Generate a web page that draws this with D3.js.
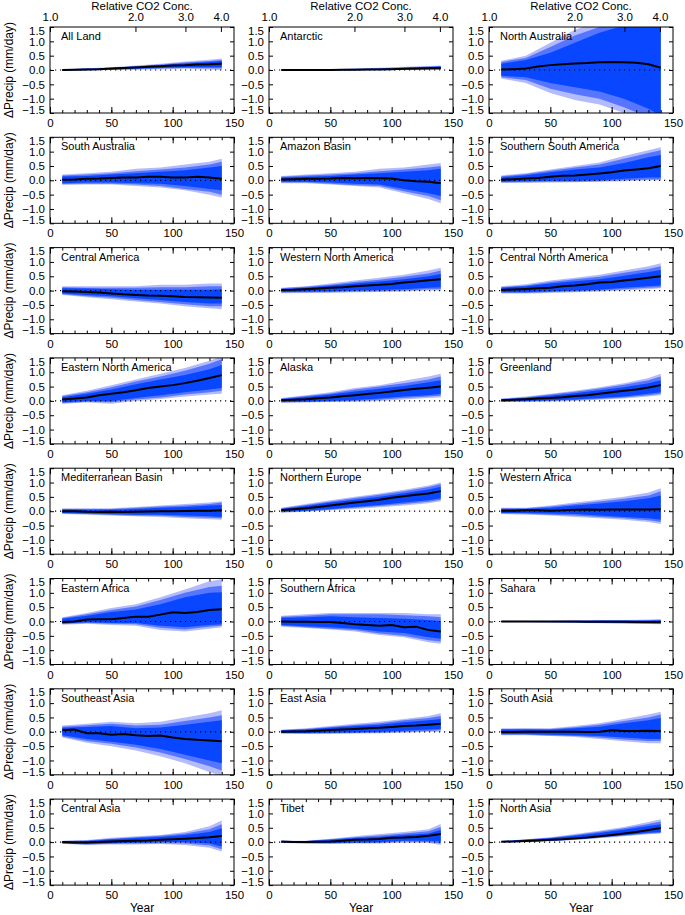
<!DOCTYPE html>
<html><head><meta charset="utf-8">
<script src="https://cdn.jsdelivr.net/npm/d3@7"></script>
<style>body{margin:0;background:#fff}svg{display:block}text{font-family:"Liberation Sans",Arial,Helvetica,sans-serif}</style>
</head><body><div id="chart"></div>
<script>
// ---------- data ----------
const regions = ["All Land","Antarctic","North Australia","South Australia","Amazon Basin","Southern South America",
 "Central America","Western North America","Central North America","Eastern North America","Alaska","Greenland",
 "Mediterranean Basin","Northern Europe","Western Africa","Eastern Africa","Southern Africa","Sahara",
 "Southeast Asia","East Asia","South Asia","Central Asia","Tibet","North Asia"];
const years = [10,20,30,40,50,60,70,80,90,100,110,120,130,140];
const bandYears = [10,30,50,70,90,110,130,140];
const xTicks = [0,50,100,150];
const xMinorTicks = [0,10,20,30,40,50,60,70,80,90,100,110,120,130,140,150];
const yTicks = [-1.5,-1.0,-0.5,0.0,0.5,1.0,1.5];
const co2Ticks = [1.0,2.0,3.0,4.0];

const median = [
 [0,0.01,0.02,0.03,0.05,0.07,0.09,0.11,0.13,0.16,0.17,0.19,0.2,0.22],
 [0,0,0,0,0,0.005,0.01,0.015,0.02,0.03,0.04,0.05,0.06,0.07],
 [0.02,0.03,0.05,0.12,0.17,0.2,0.23,0.24,0.27,0.28,0.27,0.25,0.2,0.08],
 [0.02,0.03,0.05,0.06,0.08,0.1,0.1,0.12,0.12,0.1,0.1,0.12,0.1,0.05],
 [0.03,0.04,0.05,0.05,0.06,0.08,0.07,0.08,0.07,0.06,0.0,-0.03,-0.05,-0.1],
 [0.02,0.04,0.06,0.08,0.12,0.16,0.17,0.2,0.24,0.28,0.34,0.38,0.42,0.5],
 [-0.02,-0.03,-0.05,-0.07,-0.1,-0.13,-0.15,-0.17,-0.18,-0.2,-0.22,-0.23,-0.24,-0.25],
 [0.02,0.03,0.05,0.07,0.1,0.12,0.15,0.18,0.2,0.23,0.28,0.32,0.36,0.4],
 [0.02,0.04,0.06,0.08,0.1,0.15,0.18,0.22,0.28,0.3,0.35,0.4,0.45,0.5],
 [0.05,0.08,0.12,0.2,0.25,0.3,0.37,0.45,0.5,0.55,0.62,0.7,0.8,0.9],
 [0.02,0.04,0.06,0.09,0.12,0.16,0.2,0.24,0.28,0.33,0.38,0.42,0.46,0.5],
 [0.02,0.04,0.06,0.08,0.1,0.13,0.17,0.2,0.25,0.3,0.35,0.4,0.47,0.55],
 [0.0,0.0,-0.02,-0.03,-0.02,-0.03,-0.02,-0.01,0.0,0.0,0.01,0.02,0.02,0.03],
 [0.03,0.07,0.1,0.15,0.2,0.25,0.3,0.35,0.4,0.47,0.52,0.57,0.62,0.7],
 [0.02,0.02,0.03,0.03,0.02,0.03,0.05,0.06,0.05,0.06,0.06,0.06,0.06,0.07],
 [-0.02,0.0,0.07,0.08,0.08,0.12,0.17,0.17,0.24,0.32,0.3,0.33,0.4,0.43],
 [0.0,-0.01,-0.01,-0.02,-0.02,-0.05,-0.1,-0.12,-0.15,-0.12,-0.2,-0.18,-0.3,-0.35],
 [0.0,0.0,0.0,0.0,0.0,0.0,0.0,-0.01,-0.01,-0.01,-0.01,-0.02,-0.02,-0.02],
 [0.05,0.08,-0.05,-0.05,-0.1,-0.08,-0.12,-0.15,-0.13,-0.2,-0.25,-0.28,-0.3,-0.33],
 [0.0,0.01,0.02,0.04,0.06,0.08,0.1,0.12,0.14,0.17,0.2,0.22,0.25,0.28],
 [-0.01,-0.01,0.0,0.0,0.0,0.0,0.0,-0.01,0.0,0.05,0.03,0.03,0.04,0.03],
 [0.0,-0.01,-0.01,0.0,0.02,0.04,0.05,0.06,0.08,0.1,0.12,0.14,0.17,0.21],
 [0.02,0.0,0.0,0.01,0.02,0.05,0.08,0.09,0.11,0.15,0.16,0.18,0.22,0.28],
 [0.01,0.02,0.04,0.06,0.08,0.1,0.13,0.16,0.2,0.25,0.3,0.35,0.42,0.49]
];
const outerHi = [
 [0.03,0.06,0.1,0.16,0.22,0.3,0.36,0.4],
 [0.01,0.02,0.03,0.05,0.08,0.11,0.14,0.16],
 [0.32,0.5,0.95,1.4,1.7,1.8,1.8,1.8],
 [0.2,0.25,0.3,0.4,0.45,0.55,0.65,0.75],
 [0.15,0.2,0.25,0.3,0.4,0.45,0.55,0.6],
 [0.17,0.25,0.38,0.5,0.62,0.85,1.05,1.15],
 [0.15,0.15,0.15,0.15,0.2,0.2,0.25,0.25],
 [0.1,0.15,0.25,0.35,0.45,0.55,0.7,0.8],
 [0.15,0.22,0.35,0.45,0.55,0.7,0.85,0.95],
 [0.2,0.35,0.55,0.75,0.95,1.15,1.4,1.55],
 [0.1,0.2,0.3,0.45,0.55,0.7,0.85,0.95],
 [0.08,0.15,0.25,0.35,0.48,0.62,0.8,0.95],
 [0.1,0.1,0.1,0.15,0.2,0.25,0.3,0.35],
 [0.12,0.25,0.38,0.5,0.62,0.75,0.9,1.0],
 [0.12,0.12,0.2,0.3,0.4,0.5,0.65,0.8],
 [0.15,0.3,0.47,0.6,0.85,1.12,1.4,1.47],
 [0.2,0.25,0.3,0.3,0.3,0.3,0.25,0.25],
 [0.03,0.03,0.03,0.04,0.05,0.05,0.07,0.08],
 [0.22,0.28,0.35,0.3,0.35,0.5,0.65,0.75],
 [0.07,0.12,0.2,0.28,0.35,0.45,0.55,0.65],
 [0.12,0.13,0.12,0.2,0.3,0.45,0.6,0.7],
 [0.05,0.07,0.15,0.2,0.25,0.35,0.55,0.75],
 [0.05,0.05,0.12,0.2,0.28,0.35,0.45,0.63],
 [0.04,0.1,0.17,0.28,0.4,0.53,0.7,0.8]
];
const midHi = [
 [0.02,0.05,0.08,0.13,0.19,0.26,0.31,0.35],
 [0.008,0.015,0.025,0.04,0.06,0.09,0.12,0.14],
 [0.28,0.42,0.8,1.2,1.5,1.7,1.8,1.8],
 [0.17,0.2,0.25,0.32,0.38,0.45,0.55,0.65],
 [0.12,0.17,0.2,0.25,0.32,0.38,0.45,0.5],
 [0.14,0.22,0.33,0.45,0.55,0.75,0.95,1.05],
 [0.12,0.1,0.1,0.1,0.12,0.12,0.15,0.15],
 [0.08,0.13,0.2,0.3,0.38,0.48,0.6,0.7],
 [0.12,0.18,0.3,0.4,0.48,0.62,0.75,0.85],
 [0.17,0.3,0.48,0.68,0.85,1.05,1.3,1.45],
 [0.08,0.17,0.26,0.4,0.5,0.62,0.75,0.85],
 [0.07,0.13,0.22,0.32,0.43,0.56,0.72,0.85],
 [0.08,0.08,0.08,0.12,0.16,0.2,0.25,0.3],
 [0.1,0.22,0.34,0.46,0.57,0.7,0.84,0.95],
 [0.1,0.1,0.16,0.25,0.34,0.43,0.55,0.7],
 [0.12,0.25,0.4,0.52,0.75,1.0,1.2,1.25],
 [0.17,0.2,0.25,0.25,0.25,0.22,0.18,0.15],
 [0.02,0.02,0.02,0.03,0.04,0.04,0.05,0.06],
 [0.18,0.23,0.28,0.22,0.25,0.38,0.5,0.58],
 [0.06,0.1,0.17,0.24,0.3,0.4,0.48,0.55],
 [0.1,0.1,0.1,0.16,0.25,0.38,0.5,0.6],
 [0.04,0.06,0.12,0.17,0.22,0.3,0.45,0.62],
 [0.04,0.04,0.1,0.17,0.23,0.3,0.38,0.53],
 [0.035,0.09,0.15,0.25,0.36,0.48,0.63,0.72]
];
const innerHi = [
 [0.015,0.04,0.07,0.12,0.17,0.23,0.28,0.31],
 [0.005,0.01,0.02,0.03,0.05,0.07,0.1,0.12],
 [0.22,0.35,0.6,0.95,1.3,1.55,1.6,1.6],
 [0.13,0.15,0.2,0.25,0.3,0.35,0.45,0.5],
 [0.1,0.12,0.15,0.2,0.25,0.3,0.35,0.4],
 [0.1,0.18,0.28,0.38,0.45,0.6,0.8,0.88],
 [0.08,0.07,0.05,0.03,0.03,0.03,0.03,0.05],
 [0.06,0.1,0.17,0.25,0.32,0.4,0.5,0.58],
 [0.1,0.15,0.25,0.33,0.4,0.52,0.65,0.72],
 [0.13,0.25,0.4,0.58,0.75,0.9,1.1,1.25],
 [0.06,0.14,0.22,0.33,0.42,0.52,0.65,0.72],
 [0.05,0.1,0.18,0.27,0.37,0.48,0.62,0.72],
 [0.06,0.05,0.05,0.08,0.12,0.15,0.2,0.22],
 [0.08,0.18,0.3,0.4,0.5,0.63,0.76,0.85],
 [0.08,0.08,0.12,0.2,0.27,0.35,0.45,0.55],
 [0.1,0.2,0.33,0.42,0.6,0.85,1.0,1.02],
 [0.13,0.15,0.18,0.15,0.12,0.1,0.05,0.02],
 [0.015,0.015,0.015,0.02,0.03,0.03,0.03,0.04],
 [0.14,0.17,0.2,0.12,0.15,0.25,0.35,0.4],
 [0.05,0.08,0.14,0.2,0.25,0.33,0.4,0.45],
 [0.08,0.08,0.07,0.12,0.18,0.3,0.4,0.48],
 [0.03,0.04,0.1,0.14,0.18,0.25,0.35,0.48],
 [0.03,0.03,0.08,0.14,0.18,0.25,0.3,0.42],
 [0.03,0.08,0.13,0.22,0.32,0.43,0.56,0.62]
];
const innerLo = [
 [-0.015,0.0,0.02,0.05,0.07,0.1,0.1,0.1],
 [-0.005,-0.01,-0.01,0,0.01,0.02,0.03,0.03],
 [-0.2,-0.25,-0.45,-0.6,-0.75,-1.0,-1.35,-1.6],
 [-0.1,-0.08,-0.08,-0.1,-0.12,-0.2,-0.3,-0.35],
 [-0.05,-0.05,-0.08,-0.12,-0.15,-0.3,-0.45,-0.55],
 [-0.05,-0.03,-0.02,-0.02,0.0,0.05,0.1,0.1],
 [-0.1,-0.15,-0.2,-0.27,-0.33,-0.4,-0.45,-0.45],
 [-0.05,-0.03,-0.02,0.0,0.02,0.05,0.1,0.12],
 [-0.05,-0.05,-0.02,0.0,0.03,0.1,0.15,0.18],
 [-0.05,0.0,0.0,0.1,0.2,0.3,0.4,0.45],
 [-0.03,-0.02,0.0,0.03,0.08,0.15,0.2,0.25],
 [-0.01,0.0,0.02,0.05,0.1,0.15,0.25,0.3],
 [-0.06,-0.08,-0.1,-0.12,-0.12,-0.15,-0.18,-0.2],
 [-0.02,0.02,0.08,0.15,0.22,0.3,0.38,0.45],
 [-0.06,-0.06,-0.08,-0.1,-0.15,-0.2,-0.25,-0.3],
 [-0.07,-0.03,-0.05,-0.05,-0.15,-0.2,-0.12,-0.1],
 [-0.12,-0.17,-0.2,-0.25,-0.35,-0.4,-0.55,-0.6],
 [-0.015,-0.015,-0.02,-0.03,-0.04,-0.05,-0.06,-0.07],
 [-0.12,-0.25,-0.35,-0.45,-0.6,-0.8,-1.0,-1.1],
 [-0.04,-0.04,-0.03,-0.02,0.0,0.04,0.08,0.1],
 [-0.08,-0.08,-0.1,-0.12,-0.15,-0.2,-0.25,-0.25],
 [-0.04,-0.06,-0.04,-0.02,0.0,0.0,-0.05,-0.15],
 [-0.01,-0.03,-0.03,-0.01,0.0,0.05,0.05,0.02],
 [0.0,0.02,0.05,0.1,0.18,0.25,0.33,0.35]
];
const midLo = [
 [-0.02,-0.01,0.01,0.03,0.05,0.07,0.06,0.05],
 [-0.008,-0.015,-0.015,-0.01,0,0.01,0.02,0.02],
 [-0.25,-0.35,-0.65,-0.85,-1.0,-1.3,-1.65,-1.8],
 [-0.13,-0.12,-0.12,-0.15,-0.2,-0.3,-0.4,-0.5],
 [-0.08,-0.08,-0.12,-0.17,-0.2,-0.38,-0.55,-0.7],
 [-0.07,-0.06,-0.05,-0.05,-0.03,0.0,0.03,0.03],
 [-0.13,-0.2,-0.25,-0.33,-0.4,-0.48,-0.55,-0.55],
 [-0.07,-0.06,-0.05,-0.03,-0.02,0.0,0.05,0.05],
 [-0.08,-0.08,-0.05,-0.03,0.0,0.05,0.1,0.12],
 [-0.08,-0.03,-0.05,0.05,0.12,0.22,0.3,0.35],
 [-0.05,-0.04,-0.02,0.0,0.04,0.1,0.15,0.18],
 [-0.03,-0.02,0.0,0.03,0.07,0.12,0.2,0.25],
 [-0.08,-0.1,-0.13,-0.15,-0.16,-0.2,-0.23,-0.25],
 [-0.04,0.0,0.05,0.12,0.18,0.25,0.33,0.4],
 [-0.08,-0.09,-0.12,-0.15,-0.2,-0.25,-0.32,-0.38],
 [-0.09,-0.05,-0.08,-0.1,-0.22,-0.28,-0.18,-0.15],
 [-0.15,-0.2,-0.25,-0.3,-0.42,-0.5,-0.65,-0.7],
 [-0.02,-0.02,-0.03,-0.04,-0.05,-0.06,-0.07,-0.08],
 [-0.16,-0.32,-0.42,-0.55,-0.72,-0.95,-1.2,-1.35],
 [-0.05,-0.06,-0.05,-0.04,-0.03,0.0,0.03,0.05],
 [-0.1,-0.1,-0.13,-0.15,-0.2,-0.27,-0.32,-0.32],
 [-0.05,-0.08,-0.06,-0.05,-0.04,-0.05,-0.12,-0.25],
 [-0.02,-0.04,-0.05,-0.03,-0.03,0.02,0.0,-0.05],
 [-0.005,0.01,0.04,0.08,0.15,0.22,0.3,0.32]
];
const outerLo = [
 [-0.03,-0.02,0.0,0.02,0.03,0.04,0.02,0.0],
 [-0.01,-0.02,-0.02,-0.015,-0.01,0,0.01,0.01],
 [-0.3,-0.45,-0.8,-1.05,-1.2,-1.5,-1.8,-1.9],
 [-0.16,-0.15,-0.15,-0.2,-0.25,-0.35,-0.5,-0.6],
 [-0.1,-0.1,-0.15,-0.2,-0.25,-0.45,-0.65,-0.8],
 [-0.09,-0.09,-0.08,-0.07,-0.05,-0.03,0.0,0.0],
 [-0.15,-0.23,-0.3,-0.38,-0.45,-0.55,-0.62,-0.65],
 [-0.09,-0.08,-0.08,-0.06,-0.05,-0.03,0.0,0.0],
 [-0.1,-0.1,-0.08,-0.06,-0.03,0.0,0.05,0.08],
 [-0.1,-0.06,-0.1,0.0,0.07,0.15,0.22,0.25],
 [-0.07,-0.06,-0.04,-0.03,0.0,0.05,0.1,0.12],
 [-0.04,-0.03,-0.02,0.0,0.04,0.08,0.15,0.2],
 [-0.1,-0.12,-0.15,-0.18,-0.2,-0.25,-0.28,-0.3],
 [-0.05,-0.02,0.03,0.08,0.14,0.2,0.28,0.35],
 [-0.1,-0.12,-0.15,-0.2,-0.25,-0.3,-0.38,-0.45],
 [-0.11,-0.08,-0.12,-0.15,-0.3,-0.35,-0.25,-0.2],
 [-0.18,-0.23,-0.28,-0.35,-0.47,-0.55,-0.72,-0.78],
 [-0.03,-0.03,-0.04,-0.05,-0.06,-0.07,-0.09,-0.1],
 [-0.2,-0.38,-0.5,-0.65,-0.85,-1.1,-1.4,-1.55],
 [-0.06,-0.08,-0.07,-0.06,-0.05,-0.03,0.0,0.0],
 [-0.12,-0.12,-0.15,-0.18,-0.25,-0.33,-0.4,-0.4],
 [-0.06,-0.1,-0.08,-0.08,-0.07,-0.1,-0.2,-0.33],
 [-0.03,-0.05,-0.06,-0.05,-0.05,-0.02,-0.03,-0.1],
 [-0.01,0.0,0.03,0.07,0.13,0.2,0.27,0.3]
];

// ---------- layout ----------
const W = 685, H = 915;
const colX = [50, 269, 489];
const panelW = 184, panelH = 86;
const rowTop0 = 27, rowStep = 110.3;
const colors = {outer: "#b3bbfb", mid: "#5676ff", inner: "#0847ff"};
const font = 11.5;

const svg = d3.select("#chart").append("svg").attr("width", W).attr("height", H);
const defs = svg.append("defs");

const co2Max = Math.pow(1.01, 150);

regions.forEach((name, i) => {
  const col = i % 3, row = Math.floor(i / 3);
  const x0 = colX[col], y0 = rowTop0 + row * rowStep;
  const x = d3.scaleLinear().domain([0, 150]).range([x0, x0 + panelW]);
  const y = d3.scaleLinear().domain([-1.5, 1.5]).range([y0 + panelH, y0]);
  const g = svg.append("g");

  const cid = "clip" + i;
  defs.append("clipPath").attr("id", cid).append("rect")
    .attr("x", x0).attr("y", y0).attr("width", panelW).attr("height", panelH);
  const pg = g.append("g").attr("clip-path", `url(#${cid})`);

  const bands = [["outer", outerLo[i], outerHi[i]], ["mid", midLo[i], midHi[i]], ["inner", innerLo[i], innerHi[i]]];
  bands.forEach(([k, lo, hi]) => {
    const area = d3.area().x((d, j) => x(bandYears[j])).y0((d, j) => y(lo[j])).y1((d, j) => y(hi[j]));
    pg.append("path").attr("d", area(bandYears)).attr("fill", colors[k]);
  });
  pg.append("line").attr("x1", x(0)).attr("x2", x(150)).attr("y1", y(0)).attr("y2", y(0))
    .attr("stroke", "#000").attr("stroke-width", 1.2).attr("stroke-dasharray", "1.2,3.8");
  const line = d3.line().x((d, j) => x(years[j])).y(d => y(d));
  pg.append("path").attr("d", line(median[i])).attr("fill", "none").attr("stroke", "#000").attr("stroke-width", 2);

  const yl = g.append("g").attr("transform", `translate(${x0},0)`)
    .call(d3.axisLeft(y).tickValues(yTicks).tickSizeInner(-4).tickSizeOuter(0).tickPadding(5).tickFormat(d3.format(".1f")));
  g.append("g").attr("transform", `translate(${x0 + panelW},0)`)
    .call(d3.axisRight(y).tickValues(yTicks).tickSizeInner(-4).tickSizeOuter(0).tickFormat(""));
  yl.selectAll("text").attr("dy", d => d === 1.5 ? "0.62em" : d === -1.5 ? "0.02em" : "0.32em");
  g.append("g").attr("transform", `translate(0,${y0 + panelH})`)
    .call(d3.axisBottom(x).tickValues(xTicks).tickSizeInner(-6).tickSizeOuter(0).tickPadding(6).tickFormat(d3.format("d")));
  g.append("g").attr("transform", `translate(0,${y0 + panelH})`)
    .call(d3.axisBottom(x).tickValues(xMinorTicks).tickSizeInner(-3).tickSizeOuter(0).tickFormat(""));
  if (row === 0) {
    const c = d3.scaleLog().domain([1, co2Max]).range([x0, x0 + panelW]);
    g.append("g").attr("transform", `translate(0,${y0})`)
      .call(d3.axisTop(c).tickValues(co2Ticks).tickSizeInner(-5).tickSizeOuter(0).tickPadding(6).tickFormat(d3.format(".1f")));
    g.append("text").attr("x", x0 + panelW / 2).attr("y", 10).attr("text-anchor", "middle")
      .attr("font-size", font).text("Relative CO2 Conc.");
  } else {
    g.append("g").attr("transform", `translate(0,${y0})`)
      .call(d3.axisTop(x).tickValues(xTicks).tickSizeInner(-6).tickSizeOuter(0).tickFormat(""));
    g.append("g").attr("transform", `translate(0,${y0})`)
      .call(d3.axisTop(x).tickValues(xMinorTicks).tickSizeInner(-3).tickSizeOuter(0).tickFormat(""));
  }
  g.selectAll(".domain").remove();
  g.selectAll(".tick text").attr("font-size", font).attr("font-family", '"Liberation Sans",Arial,sans-serif').attr("fill", "#000");
  g.selectAll(".tick line").attr("stroke", "#000");

  g.append("rect").attr("x", x0).attr("y", y0).attr("width", panelW).attr("height", panelH)
    .attr("fill", "none").attr("stroke", "#000").attr("stroke-width", 1);

  g.append("text").attr("x", x0 + 11).attr("y", y0 + 13).attr("font-size", 11).text(name);

  if (col === 0) {
    g.append("text").attr("transform", `translate(9,${y0 + panelH / 2}) rotate(-90)`)
      .attr("text-anchor", "middle").attr("dy", "0.35em").attr("font-size", 12).text("ΔPrecip (mm/day)");
  }
  if (row === 7) {
    g.append("text").attr("x", x0 + panelW / 2).attr("y", 912).attr("text-anchor", "middle")
      .attr("font-size", 12).text("Year");
  }
});
</script></body></html>
